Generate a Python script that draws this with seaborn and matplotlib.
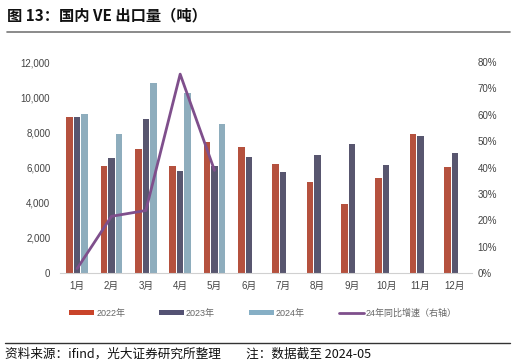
import numpy as np
import pandas as pd
import matplotlib
matplotlib.use("Agg")
import matplotlib.pyplot as plt
import matplotlib.ticker as mticker
from matplotlib.patches import Patch
from matplotlib.lines import Line2D
import seaborn as sns

months = ["1月", "2月", "3月", "4月", "5月", "6月", "7月", "8月", "9月", "10月", "11月", "12月"]
v2022 = [8850, 6100, 7030, 6090, 7450, 7140, 6220, 5190, 3940, 5400, 7880, 6030]
v2023 = [8900, 6520, 8730, 5820, 6100, 6580, 5740, 6710, 7340, 6120, 7790, 6840]
v2024 = [9050, 7920, 10820, 10210, 8450, np.nan, np.nan, np.nan, np.nan, np.nan, np.nan, np.nan]
growth = [0.017, 0.215, 0.237, 0.754, 0.389]
years = ["2022年", "2023年", "2024年"]
line_label = "24年同比增速（右轴）"

sns.set_theme(style="white")
plt.rcParams["font.family"] = ["Liberation Sans", "Noto Sans CJK SC", "DejaVu Sans"]

df = pd.DataFrame({
    "month": months * 3,
    "value": v2022 + v2023 + v2024,
    "year": [years[0]] * 12 + [years[1]] * 12 + [years[2]] * 12,
})

colors = ["#C9442A", "#545273", "#86AFC5"]
line_color = "#7F4F8C"

fig = plt.figure(figsize=(5.16, 3.64), dpi=100)
ax = fig.add_axes([60 / 516, 91 / 364, 412 / 516, 211 / 364])

sns.barplot(data=df, x="month", y="value", hue="year", hue_order=years,
            order=months, palette=colors, width=0.66, gap=0.12,
            linewidth=0, ax=ax, legend=False, errorbar=None)

ax.set_xlim(-0.5, 11.5)
ax.set_ylim(0, 12000)
ax.set_yticks(np.arange(0, 12001, 2000))
ax.yaxis.set_major_formatter(mticker.FuncFormatter(lambda v, p: f"{int(v):,}"))
ax.set_xlabel("")
ax.set_ylabel("")
for s in ["top", "right", "left"]:
    ax.spines[s].set_visible(False)
ax.spines["bottom"].set_color("#D0D0D0")
ax.spines["bottom"].set_linewidth(0.8)
ax.tick_params(axis="x", which="major", length=0, labelsize=7, labelcolor="#444444", pad=6)
ax.tick_params(axis="y", length=0, labelsize=7, labelcolor="#444444", pad=7)
ax.set_xticks(np.arange(-0.5, 12, 1), minor=True)
ax.tick_params(axis="x", which="minor", length=3, color="#D0D0D0", width=0.8)

ax2 = ax.twinx()
sns.lineplot(x=np.arange(len(growth)), y=growth, ax=ax2, color=line_color, linewidth=2)
ax2.set_ylim(0, 0.8)
ax2.set_yticks(np.arange(0, 0.81, 0.1))
ax2.yaxis.set_major_formatter(mticker.FuncFormatter(lambda v, p: f"{v*100:.0f}%"))
for s in ["top", "right", "left", "bottom"]:
    ax2.spines[s].set_visible(False)
ax2.tick_params(axis="y", length=0, labelsize=7, labelcolor="#444444", pad=4)
ax2.set_xlim(-0.5, 11.5)

handles = [Patch(facecolor=c, edgecolor="none") for c in colors] + \
          [Line2D([0], [0], color=line_color, lw=2)]
labels = years + [line_label]
fig.legend(handles, labels, loc="center left", bbox_to_anchor=(69 / 516, 1 - 313 / 364),
           ncol=4, frameon=False, fontsize=6.5, handlelength=2.8, handleheight=0.5,
           handletextpad=0.2, columnspacing=3.75, labelcolor="#666666", borderpad=0,
           borderaxespad=0)

fig.text(0.014, 1 - 15 / 364, "图 13：国内 VE 出口量（吨）", fontsize=11, fontweight="bold",
         va="center", ha="left", family=["Noto Sans CJK SC", "DejaVu Sans"], color="#111111")
fig.add_artist(Line2D([7 / 516, 510 / 516], [1 - 31.7 / 364] * 2, color="#777777", lw=1.2,
                      transform=fig.transFigure))
fig.add_artist(Line2D([5 / 516, 510 / 516], [1 - 343 / 364] * 2, color="#333333", lw=1.0,
                      transform=fig.transFigure))
fig.text(0.01, 1 - 354 / 364, "资料来源：ifind，光大证券研究所整理　　注：数据截至 2024-05",
         fontsize=9.1, va="center", ha="left", family=["Noto Sans CJK SC", "DejaVu Sans"],
         color="#111111")

fig.savefig("out.png", dpi=100)
